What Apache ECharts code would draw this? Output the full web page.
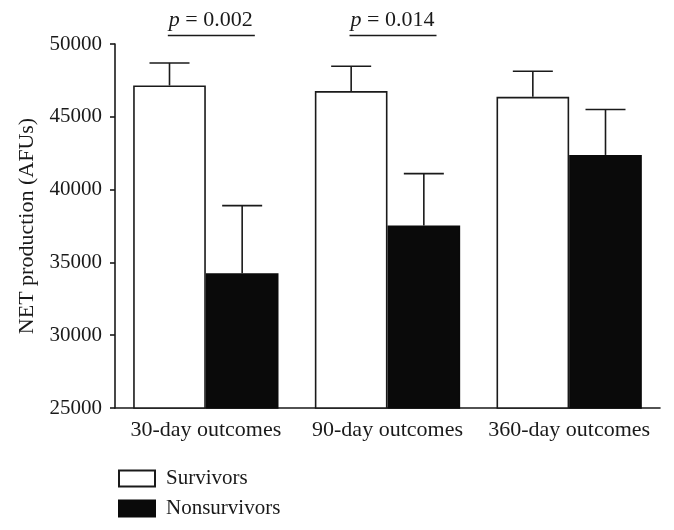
<!DOCTYPE html>
<html>
<head>
<meta charset="utf-8">
<script src="https://cdn.jsdelivr.net/npm/echarts@6/dist/echarts.min.js"></script>
<style>html,body{margin:0;padding:0;background:#fff}#c{width:674px;height:530px}</style>
</head>
<body>
<div id="c"></div>
<script>
const categories = ['30-day outcomes', '90-day outcomes', '360-day outcomes'];
const survivors = [47150, 46770, 46370];
const survivorsErrTop = [48700, 48470, 48130];
const nonsurvivors = [34250, 37530, 42380];
const nonsurvivorsErrTop = [38900, 41100, 45500];
const pLabels = ['p = 0.002', 'p = 0.014', null];
const yTicks = [25000, 30000, 35000, 40000, 45000, 50000];

const FONT = '"Liberation Serif", "DejaVu Serif", serif';
const chart = echarts.init(document.getElementById('c'), null, {renderer: 'canvas'});

const errData = [];
categories.forEach((c, i) => {
  errData.push([i, survivors[i], survivorsErrTop[i], 0]);
  errData.push([i, nonsurvivors[i], nonsurvivorsErrTop[i], 1]);
});

function renderErr(params, api) {
  const idx = api.value(0);
  const which = api.value(3);
  const base = api.coord([idx, api.value(1)]);
  const top = api.coord([idx, api.value(2)]);
  const bw = api.size([1, 0])[0] * 0.8 / 2;
  const x = base[0] + (which === 0 ? -bw / 2 : bw / 2);
  const capHalf = 20;
  const style = {stroke: '#1a1a1a', lineWidth: 1.6};
  return {
    type: 'group',
    children: [
      {type: 'line', shape: {x1: x, y1: base[1], x2: x, y2: top[1]}, style},
      {type: 'line', shape: {x1: x - capHalf, y1: top[1], x2: x + capHalf, y2: top[1]}, style}
    ]
  };
}

chart.setOption({
  animation: false,
  textStyle: {fontFamily: FONT},
  grid: {left: 115, right: 14, top: 44, bottom: 122},
  legend: {
    orient: 'vertical', left: 113, top: 463,
    itemWidth: 36, itemHeight: 16, itemGap: 9,
    icon: 'rect',
    textStyle: {fontFamily: FONT, fontSize: 21, color: '#1a1a1a', padding: [0, 0, 0, 6]},
    data: ['Survivors', 'Nonsurvivors']
  },
  xAxis: {
    type: 'category', data: categories,
    axisLine: {lineStyle: {color: '#1a1a1a', width: 1.6}},
    axisTick: {show: false},
    axisLabel: {fontFamily: FONT, fontSize: 22, color: '#1a1a1a', margin: 11, interval: 0}
  },
  yAxis: {
    type: 'value', min: yTicks[0], max: yTicks[yTicks.length - 1], interval: 5000,
    name: 'NET production (AFUs)', nameLocation: 'middle', nameGap: 76,
    nameTextStyle: {fontFamily: FONT, fontSize: 22, color: '#1a1a1a'},
    axisLine: {show: true, lineStyle: {color: '#1a1a1a', width: 1.6}},
    axisTick: {show: true, length: 5, lineStyle: {color: '#1a1a1a', width: 1.6}},
    axisLabel: {fontFamily: FONT, fontSize: 21, color: '#1a1a1a', margin: 13,
      formatter: v => String(v)},
    splitLine: {show: false}
  },
  series: [
    {name: 'Survivors', type: 'bar', data: survivors, barGap: '0%', barCategoryGap: '20%',
     itemStyle: {color: '#ffffff', borderColor: '#1a1a1a', borderWidth: 1.6}},
    {name: 'Nonsurvivors', type: 'bar', data: nonsurvivors,
     itemStyle: {color: '#0a0a0a', borderColor: '#0a0a0a', borderWidth: 1.6}},
    {type: 'custom', renderItem: renderErr, data: errData, z: 10, silent: true,
     encode: {x: 0, y: [1, 2]}}
  ]
});

// p-value annotations
const graphics = [];
pLabels.forEach((lbl, i) => {
  if (!lbl) return;
  const cx = chart.convertToPixel({xAxisIndex: 0}, i);
  const x1 = cx - 38, x2 = cx + 49;
  graphics.push({type: 'line', shape: {x1: x1, y1: 35.5, x2: x2, y2: 35.5},
    style: {stroke: '#1a1a1a', lineWidth: 1.6}});
  const num = lbl.replace(/^p\s*/, '');
  graphics.push({type: 'text', left: x1 + 1, top: 9,
    style: {rich: {i: {fontFamily: FONT, fontStyle: 'italic', fontSize: 22, fill: '#1a1a1a'},
                   n: {fontFamily: FONT, fontSize: 22, fill: '#1a1a1a'}},
            text: '{i|p}{n| ' + num + '}'}});
});
chart.setOption({graphic: graphics});
</script>
</body>
</html>
